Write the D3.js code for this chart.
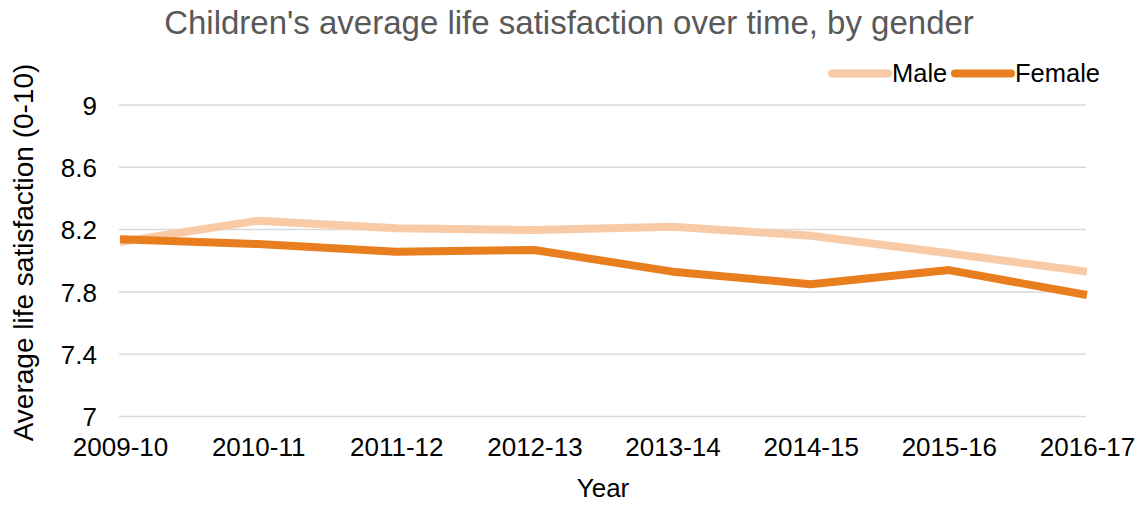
<!DOCTYPE html>
<html>
<head>
<meta charset="utf-8">
<script src="https://cdn.jsdelivr.net/npm/d3@7"></script>
<style>
body { margin: 0; background: #fff; }
svg { font-family: "Liberation Sans", Arial, sans-serif; }
</style>
</head>
<body>
<svg id="chart" width="1144" height="506"></svg>
<script>
const categories = ["2009-10","2010-11","2011-12","2012-13","2013-14","2014-15","2015-16","2016-17"];
const maleValues = [8.12, 8.257, 8.208, 8.197, 8.219, 8.16, 8.048, 7.93];
const femaleValues = [8.138, 8.107, 8.058, 8.069, 7.93, 7.849, 7.94, 7.78];
const yTicks = [7, 7.4, 7.8, 8.2, 8.6, 9];
const seriesNames = ["Male", "Female"];
const seriesColors = ["#F8CBA6", "#E97E1F"];

(function () {
const svg = d3.select("#chart");
const plotLeft = 120, plotRight = 1087, plotTop = 105, plotBottom = 416.5;
const FONT = "Liberation Sans, Arial, sans-serif";

const x = d3.scalePoint().domain(categories).range([plotLeft, plotRight]);
const y = d3.scaleLinear().domain([7, 9]).range([plotBottom, plotTop]);

// gridlines
svg.append("g").selectAll("line").data(yTicks).join("line")
  .attr("x1", plotLeft - 1).attr("x2", plotRight - 1)
  .attr("y1", d => y(d)).attr("y2", d => y(d))
  .attr("stroke", "#d9d9d9").attr("stroke-width", 1.5);

// y axis labels
const yAxis = d3.axisLeft(y).tickValues(yTicks).tickSize(0).tickPadding(0)
  .tickFormat(d => d3.format("")(d));
const gy = svg.append("g").attr("transform", `translate(97,0)`).call(yAxis);
gy.select(".domain").remove();
gy.selectAll("text").attr("font-size", 26).attr("fill", "#000")
  .attr("font-family", FONT).attr("dy", "0.36em");

// x axis labels
const xAxis = d3.axisBottom(x).tickSize(0).tickPadding(0);
const gx = svg.append("g").attr("transform", `translate(0,437)`).call(xAxis);
gx.select(".domain").remove();
gx.selectAll("text").attr("font-size", 26).attr("fill", "#000")
  .attr("font-family", FONT).attr("dy", "0.73em");

// lines
const line = d3.line().x((d, i) => x(categories[i])).y(d => y(d));
[maleValues, femaleValues].forEach((vals, k) => {
  svg.append("path").datum(vals)
    .attr("d", line)
    .attr("fill", "none")
    .attr("stroke", seriesColors[k])
    .attr("stroke-width", 8)
    .attr("stroke-linejoin", "round");
});

// title
svg.append("text").attr("x", 569).attr("y", 34).attr("text-anchor", "middle")
  .attr("font-size", 33).attr("fill", "#595959")
  .text("Children's average life satisfaction over time, by gender");

// axis titles
svg.append("text").attr("x", 603).attr("y", 497).attr("text-anchor", "middle")
  .attr("font-size", 26).attr("fill", "#000").text("Year");
svg.append("text").attr("transform", "translate(33,252.5) rotate(-90)")
  .attr("text-anchor", "middle").attr("font-size", 28).attr("fill", "#000")
  .text("Average life satisfaction (0-10)");

// legend
const legendItems = [
  { name: seriesNames[0], color: seriesColors[0], x1: 832, x2: 888, tx: 892 },
  { name: seriesNames[1], color: seriesColors[1], x1: 955, x2: 1011, tx: 1015 }
];
const lg = svg.append("g");
legendItems.forEach(it => {
  lg.append("line").attr("x1", it.x1).attr("x2", it.x2).attr("y1", 73.5).attr("y2", 73.5)
    .attr("stroke", it.color).attr("stroke-width", 8).attr("stroke-linecap", "round");
  lg.append("text").attr("x", it.tx).attr("y", 82).attr("font-size", 25.5)
    .attr("fill", "#000").text(it.name);
});
})();
</script>
</body>
</html>
